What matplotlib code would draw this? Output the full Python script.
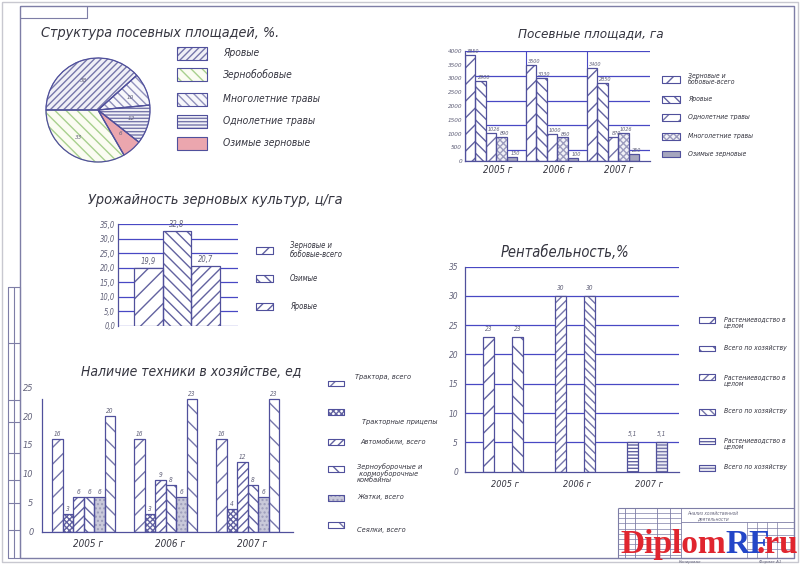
import matplotlib
matplotlib.use('Agg')
import matplotlib.pyplot as plt
import numpy as np
from matplotlib.patches import Rectangle
from matplotlib import font_manager as fm

W, H = 800, 565
has_cond = any(('DejaVuSansCondensed' in f.fname) for f in fm.fontManager.ttflist)
K = 1.1 if has_cond else 1.0
plt.rcParams['font.family'] = ['DejaVu Sans']
plt.rcParams['font.stretch'] = 'condensed'
plt.rcParams['font.style'] = 'italic'
plt.rcParams['hatch.linewidth'] = 1.0

# ---------------- data ----------------
pie_labels = ['Яровые', 'Многолетние травы', 'Однолетние травы', 'Озимые зерновые', 'Зернобобовые']
pie_values = [38, 10, 12, 6, 33]
pie_legend = ['Яровые', 'Зернобобовые', 'Многолетние травы', 'Однолетние травы', 'Озимые зерновые']

years = ['2005 г', '2006 г', '2007 г']

area_series = ['Зерновые и\nбобовые-всего', 'Яровые', 'Однолетние травы',
               'Многолетние травы', 'Озимые зерновые']
area_2005 = [3850, 2900, 1026, 890, 150]
area_2006 = [3500, 3030, 1000, 860, 100]
area_2007 = [3400, 2850, 870, 1026, 250]
area_ticks = [0, 500, 1000, 1500, 2000, 2500, 3000, 3500, 4000]
area_lines = [400, 1300, 2200, 3100, 4000]

yield_series = ['Зерновые и\nбобовые-всего', 'Озимые', 'Яровые']
yield_values = [19.9, 32.8, 20.7]
yield_ticks = [0, 5, 10, 15, 20, 25, 30, 35]

tech_series = ['Трактора, всего', 'Тракторные прицепы', 'Автомобили, всего',
               'Зерноуборочные и\n кормоуборочные\nкомбайны', 'Жатки, всего', 'Сеялки, всего']
tech_2005 = [16, 3, 6, 6, 6, 20]
tech_2006 = [16, 3, 9, 8, 6, 23]
tech_2007 = [16, 4, 12, 8, 6, 23]
tech_ticks = [0, 5, 10, 15, 20, 25]

rent_series = ['Растениеводство в\nцелом', 'Всего по хозяйству']
rent_2005 = [23, 23]
rent_2006 = [30, 30]
rent_2007 = [5.1, 5.1]
rent_ticks = [0, 5, 10, 15, 20, 25, 30, 35]

# ---------------- style ----------------
EDGE = '#50509c'
HATCH = '#6262a0'
HATCH2 = '#7676aa'
GRID = '#4848c4'
TXT = '#34343f'
NUM = '#62627a'
FRAME = '#7e7ea6'

fig = plt.figure(figsize=(8, 5.65), dpi=100)
fig.patch.set_facecolor('white')


def add_ax(x0, y0, x1, y1):
    return fig.add_axes([x0 / W, 1 - y1 / H, (x1 - x0) / W, (y1 - y0) / H])


def fmt_num(v, dec=0):
    s = f'{v:.{dec}f}' if dec else (f'{v:g}')
    return s.replace('.', ',')


def style_ax(ax, size):
    for s in ['top', 'right']:
        ax.spines[s].set_visible(False)
    for s in ['left', 'bottom']:
        ax.spines[s].set_color(EDGE)
        ax.spines[s].set_linewidth(0.9)
    ax.tick_params(length=0, colors=NUM, labelsize=size * K, pad=2)
    ax.set_facecolor('none')


def hbars(ax, x, h, w, st):
    face, hatch, hcol = st
    bc = ax.bar(x, h, w, zorder=2)
    for p in bc.patches:
        p.set_facecolor(face)
        p.set_hatch(hatch)
        p.set_edgecolor(hcol)
        p.set_linewidth(0.5)
    ax.bar(x, h, w, fill=False, edgecolor=EDGE, linewidth=0.9, zorder=3)


# overlay for frame, titles, legends
ov = fig.add_axes([0, 0, 1, 1])
ov.set_xlim(0, W)
ov.set_ylim(H, 0)
ov.axis('off')
ov.set_zorder(5)


def leg_box(x, y, w, h, st):
    face, hatch, hcol = st
    r = Rectangle((x, y), w, h)
    r.set_facecolor(face); r.set_hatch(hatch); r.set_edgecolor(hcol); r.set_linewidth(0.5)
    ov.add_patch(r)
    ov.add_patch(Rectangle((x, y), w, h, fill=False, edgecolor=EDGE, linewidth=0.8))


def title(x, y, s, size):
    ov.text(x, y, s, ha='center', va='center', fontsize=size * K, color=TXT, style='italic')


def ltext(x, y, s, size):
    ov.text(x, y, s, fontsize=size * K, va='center', ha='left', color=TXT, linespacing=1.0)


# ---------------- pie ----------------
axp = add_ax(33, 45, 163, 175)
pie_styles = [('#efeff6', '/////', HATCH2),
              ('#f7f7fb', '\\\\\\\\', '#9090bc'),
              ('#f1f1f7', '-----', HATCH2),
              ('#eba6ae', '', '#eba6ae'),
              ('#fbfcf2', '\\\\\\', '#a8d08e')]
wedges, texts = axp.pie(pie_values, startangle=180, counterclock=False,
                        labels=[str(v) for v in pie_values], labeldistance=0.6,
                        textprops=dict(fontsize=4.5, color=NUM))
for wdg, st in zip(wedges, pie_styles):
    wdg.set_facecolor(st[0]); wdg.set_hatch(st[1]); wdg.set_edgecolor(st[2]); wdg.set_linewidth(0.5)
w2, _ = axp.pie(pie_values, startangle=180, counterclock=False,
                wedgeprops=dict(fill=False, edgecolor=EDGE, linewidth=0.9))
axp.set_aspect('equal')
title(160, 33, 'Структура посевных площадей, %.', 9.3)
pie_leg_style = {lab: st for lab, st in zip(pie_labels, pie_styles)}
pie_leg_y = [47, 68, 93, 115, 137]
for lab, yy in zip(pie_legend, pie_leg_y):
    leg_box(177, yy, 30, 12.5, pie_leg_style[lab])
    ltext(223, yy + 6.5, lab, 6.7)

# ---------------- sown areas ----------------
axa = add_ax(465, 51, 650, 161)
style_ax(axa, 4.2)
area_styles = [('white', '//', HATCH),
               ('white', '\\\\\\', HATCH),
               ('white', '//', HATCH2),
               ('#f2f2f6', 'xxxxx', '#9c9cbe'),
               ('#a6a6be', '', '#a6a6be')]
area_data = np.array([area_2005, area_2006, area_2007])
g = np.arange(len(years))
bw = 0.172
nser = len(area_series)
for i in range(nser):
    xs = g + (i - (nser - 1) / 2) * bw
    hbars(axa, xs, area_data[:, i], bw, area_styles[i])
    for xx, v in zip(xs, area_data[:, i]):
        axa.text(xx + bw * 0.3, v + 30, str(v), fontsize=3.6 * K, color=NUM, ha='center', va='bottom', zorder=4)
for lv in area_lines:
    axa.axhline(lv, color=GRID, lw=0.9, zorder=1)
for gg in g[1:]:
    axa.axvline(gg - nser / 2 * bw, color=GRID, lw=0.8, zorder=1)
axa.set_ylim(0, 4000)
axa.set_xlim(-nser / 2 * bw, 2.61)
axa.set_yticks(area_ticks)
axa.set_yticklabels([str(t) for t in area_ticks])
axa.set_xticks(g + 0.1)
axa.set_xticklabels(years, fontsize=6.3 * K, color=TXT)
axa.tick_params(axis='x', pad=3)
title(591, 34, 'Посевные площади, га', 8.8)
area_leg_y = [76, 96, 114, 133, 150.5]
for lab, st, yy in zip(area_series, area_styles, area_leg_y):
    leg_box(662, yy, 18, 6.8, st)
    ltext(688, yy + 3.4, lab, 4.5)

# ---------------- yield ----------------
axy = add_ax(118, 224.3, 238, 325.7)
style_ax(axy, 5.0)
axy.spines['bottom'].set_visible(False)
yield_styles = [('white', '//', HATCH), ('white', '\\\\\\', HATCH), ('white', '///', HATCH)]
yx = np.arange(len(yield_values))
for xx, v, st in zip(yx, yield_values, yield_styles):
    hbars(axy, [xx], [v], 1.0, st)
    axy.text(xx, v + 0.6, fmt_num(v, 1), fontsize=5.0 * K, color=NUM, ha='center', va='bottom')
for t in yield_ticks:
    axy.axhline(t, color=GRID, lw=0.9, zorder=1)
axy.set_ylim(0, 35)
axy.set_xlim(-1.05, 3.12)
axy.set_xticks([])
axy.set_yticks(yield_ticks)
axy.set_yticklabels([fmt_num(t, 1) for t in yield_ticks])
title(215, 200, 'Урожайность зерновых культур, ц/га', 9.4)
yield_leg_y = [246.7, 275, 303.3]
for lab, st, yy in zip(yield_series, yield_styles, yield_leg_y):
    leg_box(256, yy, 16.5, 6.8, st)
    ltext(290, yy + 3.4, lab, 5.0)

# ---------------- machinery ----------------
axt = add_ax(41.7, 387.2, 293, 531.7)
style_ax(axt, 6.0)
axt.spines['left'].set_bounds(0, 23)
tech_styles = [('white', '//', HATCH2),
               ('white', 'xxxxxx', HATCH),
               ('white', '////', HATCH),
               ('white', '\\\\\\', HATCH),
               ('#c9c9da', '....', '#9c9cba'),
               ('white', '\\\\', HATCH2)]
tech_data = np.array([tech_2005, tech_2006, tech_2007])
tbw = 0.128
nt = len(tech_series)
for i in range(nt):
    xs = g + (i - (nt - 1) / 2) * tbw
    hbars(axt, xs, tech_data[:, i], tbw, tech_styles[i])
    for xx, v in zip(xs, tech_data[:, i]):
        axt.text(xx, v + 0.35, str(v), fontsize=4.3 * K, color=NUM, ha='center', va='bottom')
axt.set_ylim(0, 25)
axt.set_xlim(-0.513, 2.55)
axt.set_yticks(tech_ticks)
axt.set_yticklabels([str(t) for t in tech_ticks])
axt.tick_params(axis='y', pad=6)
axt.set_xticks(g + 0.05)
axt.set_xticklabels(years, fontsize=6.5 * K, color=TXT)
axt.tick_params(axis='x', pad=5)
title(191, 372, 'Наличие техники в хозяйстве, ед', 9.1)
tech_leg_y = [380.7, 409.3, 439.3, 466, 495, 522.3]
tech_txt = [(355, 377), (362, 421.7), (360, 442), (357, 473), (357, 497), (357, 530)]
for lab, st, yy, (tx, ty) in zip(tech_series, tech_styles, tech_leg_y, tech_txt):
    leg_box(327.5, yy, 16.5, 5.5, st)
    ltext(tx, ty, lab, 4.8)

# ---------------- profitability ----------------
axr = add_ax(465, 266.5, 679, 471.7)
style_ax(axr, 5.5)
rent_styles = [('white', '//', HATCH),
               ('white', '\\\\', HATCH),
               ('white', '////', HATCH2),
               ('white', '\\\\\\\\', HATCH2),
               ('white', '-----', HATCH),
               ('#ececf4', '-----', HATCH2)]
rent_data = np.array([rent_2005, rent_2006, rent_2007])
rbw = 0.153
for yi in range(len(years)):
    for j in range(2):
        xx = g[yi] + (j - 0.5) * 0.4
        hbars(axr, [xx], [rent_data[yi, j]], rbw, rent_styles[yi * 2 + j])
        axr.text(xx, rent_data[yi, j] + 0.8, fmt_num(rent_data[yi, j]), fontsize=4.3 * K,
                 color=NUM, ha='center', va='bottom')
for t in rent_ticks[1:]:
    axr.axhline(t, color=GRID, lw=0.9, zorder=1)
axr.set_ylim(0, 35)
axr.set_xlim(-0.525, 2.44)
axr.set_yticks(rent_ticks)
axr.set_yticklabels([str(t) for t in rent_ticks])
axr.tick_params(axis='y', pad=5)
axr.set_xticks(g + 0.03)
axr.set_xticklabels(years, fontsize=6.0 * K, color=TXT)
axr.tick_params(axis='x', pad=6)
title(565, 252, 'Рентабельность,%', 9.6)
rent_leg_y = [317.3, 345.7, 374, 409, 438.3, 465]
rent_txt_y = [322, 348.3, 380, 411, 443, 467.3]
for k, (st, yy, ty) in enumerate(zip(rent_styles, rent_leg_y, rent_txt_y)):
    leg_box(698.5, yy, 16.5, 5.5, st)
    ltext(724, ty, rent_series[k % 2], 4.5)

# ---------------- drawing frame ----------------
def ln(xs, ys, c=FRAME, lw=0.8):
    ov.plot(xs, ys, color=c, lw=lw, solid_capstyle='butt')

ln([2, 798, 798, 2, 2], [2, 2, 562, 562, 2], c='#c8c8d0', lw=1.0)
ln([20, 794, 794, 20, 20], [6, 6, 558, 558, 6], lw=1.0)
ln([20, 87, 87], [18, 18, 6])
# left strip
ln([8, 20, 20, 8, 8], [287, 287, 558, 558, 287])
ln([13.5, 13.5], [287, 558])
for yy in [343, 400, 422, 453, 480, 503, 530]:
    ln([8, 20], [yy, yy])
# title block
ln([618, 794], [507.7, 507.7])
ln([618, 618], [507.7, 558])
for xx in [625, 635, 657, 670, 680.7]:
    ln([xx, xx], [507.7, 558], lw=0.6)
for yy in np.arange(513, 558, 5.2):
    ln([618, 680.7], [yy, yy], lw=0.5)
ln([680.7, 794], [521.7, 521.7], lw=0.6)
for xx in [746.7, 756.7, 766.7, 776.7]:
    ln([xx, xx], [521.7, 558], lw=0.5)
for yy in [528, 535, 542, 549]:
    ln([746.7, 794], [yy, yy], lw=0.5)
ov.text(713, 516, 'Анализ хозяйственной\nдеятельности', fontsize=3.4, color=NUM, ha='center', va='center')
ov.text(690, 562, 'Копировал', fontsize=3.2, color=NUM, ha='center', va='center')
ov.text(770, 562, 'Формат A1', fontsize=3.2, color=NUM, ha='center', va='center')

# watermark
wm = dict(fontsize=24, fontweight='bold', va='baseline', ha='left',
          family=['Liberation Serif', 'DejaVu Serif'], style='normal', stretch='normal')
ov.text(620, 553, 'Diplom', color='#e0252f', **wm)
ov.text(725, 553, 'RF', color='#2346c8', **wm)
ov.text(757, 553, '.ru', color='#e0252f', **wm)

fig.savefig('out.png', dpi=100, facecolor='white')
